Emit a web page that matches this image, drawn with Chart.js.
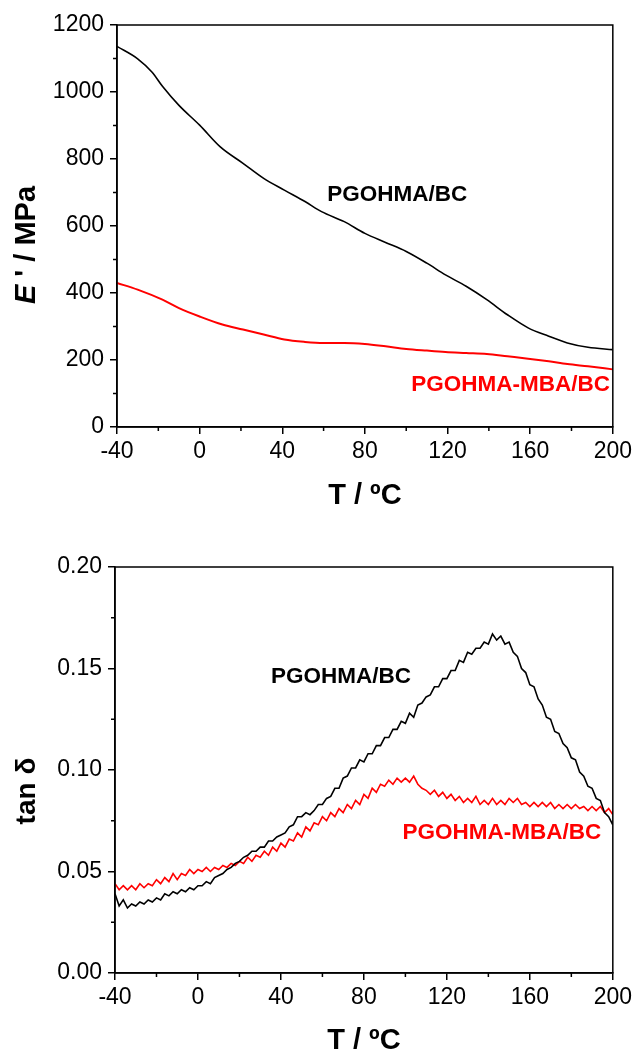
<!DOCTYPE html>
<html>
<head>
<meta charset="utf-8">
<script src="https://cdn.jsdelivr.net/npm/chart.js@4/dist/chart.umd.min.js"></script>
<style>
  body { margin: 0; background: #fff; }
  canvas { position: absolute; left: 0; }
</style>
</head>
<body>
<canvas id="storage" width="636" height="520" style="top:0"></canvas>
<canvas id="tanDelta" width="636" height="517" style="top:540px"></canvas>
<script>
// storage modulus E' (MPa) vs T
const blackTempsE = [-40, -30, -23, -18, -10, 0, 10, 21, 31, 41, 51, 59, 70, 80, 90, 100, 110, 119, 129, 139, 149, 159, 169, 178, 188, 200];
const blackE = [1136, 1099, 1059, 1017, 960, 901, 836, 787, 742, 707, 673, 643, 613, 578, 551, 524, 489, 454, 420, 380, 335, 296, 271, 251, 238, 231];
const redTempsE = [-40, -30, -18, -10, 0, 11, 21, 31, 41, 51, 60, 70, 80, 90, 100, 110, 119, 129, 139, 149, 159, 169, 178, 188, 200];
const redE = [430, 410, 380, 355, 330, 306, 291, 276, 261, 254, 251, 251, 248, 241, 233, 228, 224, 221, 218, 211, 204, 196, 188, 181, 172];

// tan delta vs T
const tanTemps = [-40, -38, -36, -34, -32, -30, -28, -26, -24, -22, -20, -18, -16, -14, -12, -10, -8, -6, -4, -2,
  0, 2, 4, 6, 8, 10, 12, 14, 16, 18, 20, 22, 24, 26, 28, 30, 32, 34, 36, 38,
  40, 42, 44, 46, 48, 50, 52, 54, 56, 58, 60, 62, 64, 66, 68, 70, 72, 74, 76, 78,
  80, 82, 84, 86, 88, 90, 92, 94, 96, 98, 100, 102, 104, 106, 108, 110, 112, 114, 116, 118,
  120, 122, 124, 126, 128, 130, 132, 134, 136, 138, 140, 142, 144, 146, 148, 150, 152, 154, 156, 158,
  160, 162, 164, 166, 168, 170, 172, 174, 176, 178, 180, 182, 184, 186, 188, 190, 192, 194, 196, 198, 200];
const blackTan = [0.039, 0.033, 0.036, 0.032, 0.034, 0.033, 0.035, 0.034, 0.036, 0.035, 0.037, 0.036, 0.039, 0.038, 0.040, 0.039, 0.041, 0.040, 0.042, 0.041,
  0.043, 0.043, 0.045, 0.044, 0.047, 0.048, 0.049, 0.051, 0.052, 0.054, 0.055, 0.057, 0.058, 0.060, 0.060, 0.062, 0.062, 0.065, 0.065, 0.067,
  0.068, 0.069, 0.072, 0.073, 0.077, 0.077, 0.079, 0.078, 0.080, 0.083, 0.083, 0.086, 0.087, 0.091, 0.091, 0.096, 0.097, 0.101, 0.101, 0.105,
  0.104, 0.108, 0.108, 0.112, 0.112, 0.116, 0.116, 0.120, 0.120, 0.124, 0.123, 0.128, 0.126, 0.132, 0.133, 0.136, 0.137, 0.141, 0.141, 0.145,
  0.145, 0.149, 0.149, 0.154, 0.153, 0.158, 0.157, 0.160, 0.160, 0.163, 0.162, 0.167, 0.164, 0.166, 0.162, 0.163, 0.158, 0.156, 0.150, 0.148,
  0.142, 0.141, 0.135, 0.132, 0.126, 0.125, 0.119, 0.118, 0.113, 0.111, 0.106, 0.105, 0.099, 0.097, 0.092, 0.091, 0.086, 0.085, 0.079, 0.077, 0.073];
const redTan = [0.044, 0.041, 0.043, 0.041, 0.043, 0.041, 0.044, 0.042, 0.044, 0.043, 0.046, 0.044, 0.047, 0.045, 0.049, 0.046, 0.049, 0.048, 0.051, 0.049,
  0.051, 0.050, 0.052, 0.050, 0.052, 0.051, 0.053, 0.052, 0.054, 0.053, 0.055, 0.054, 0.057, 0.055, 0.058, 0.057, 0.060, 0.058, 0.062, 0.060,
  0.064, 0.062, 0.066, 0.065, 0.069, 0.067, 0.072, 0.070, 0.074, 0.073, 0.077, 0.075, 0.079, 0.077, 0.081, 0.079, 0.083, 0.081, 0.085, 0.083,
  0.088, 0.086, 0.091, 0.089, 0.093, 0.092, 0.095, 0.093, 0.096, 0.094, 0.096, 0.094, 0.097, 0.093, 0.091, 0.090, 0.088, 0.090, 0.087, 0.089,
  0.086, 0.088, 0.085, 0.087, 0.084, 0.086, 0.084, 0.087, 0.083, 0.085, 0.083, 0.086, 0.083, 0.085, 0.083, 0.086, 0.084, 0.086, 0.083, 0.084,
  0.082, 0.084, 0.082, 0.084, 0.082, 0.084, 0.081, 0.083, 0.081, 0.083, 0.081, 0.083, 0.081, 0.082, 0.080, 0.082, 0.080, 0.082, 0.079, 0.081, 0.078];

const FONT = "'Liberation Sans', Arial, sans-serif";

function pairs(xs, ys) {
  return xs.map((x, i) => ({ x: x, y: ys[i] }));
}

// frame, minor ticks, axis titles and curve labels
function decorations(opts) {
  return {
    id: "decor",
    afterDraw(chart) {
      const ctx = chart.ctx;
      const a = chart.chartArea;
      const xs = chart.scales.x;
      const ys = chart.scales.y;
      ctx.save();
      ctx.strokeStyle = "#000";
      ctx.lineWidth = 1.5;
      ctx.strokeRect(a.left, a.top, a.right - a.left, a.bottom - a.top);
      ctx.beginPath();
      opts.minorX.forEach(v => {
        const px = xs.getPixelForValue(v);
        ctx.moveTo(px, a.bottom);
        ctx.lineTo(px, a.bottom + 4);
      });
      opts.minorY.forEach(v => {
        const py = ys.getPixelForValue(v);
        ctx.moveTo(a.left, py);
        ctx.lineTo(a.left - 4, py);
      });
      ctx.stroke();

      ctx.fillStyle = "#000";
      ctx.textAlign = "center";
      ctx.textBaseline = "middle";
      ctx.font = "bold 29px " + FONT;
      ctx.fillText("T / \u00baC", (a.left + a.right) / 2, opts.xTitleY);

      ctx.translate(27, opts.yTitleY);
      ctx.rotate(-Math.PI / 2);
      opts.yTitle(ctx);
      ctx.restore();

      ctx.save();
      ctx.textAlign = "center";
      ctx.textBaseline = "middle";
      ctx.font = "bold 22.5px " + FONT;
      opts.labels.forEach(l => {
        ctx.fillStyle = l.color;
        ctx.fillText(l.text, xs.getPixelForValue(l.x), ys.getPixelForValue(l.y));
      });
      ctx.restore();
    }
  };
}

function axes(yMin, yMax, yStep, yFmt, xHeight, yWidth) {
  const tickFont = { family: FONT, size: 23 };
  return {
    x: {
      type: "linear", min: -40, max: 200,
      ticks: { stepSize: 40, color: "#000", font: tickFont, padding: 4, maxRotation: 0 },
      grid: { drawOnChartArea: false, drawTicks: true, tickLength: 7, color: "#000", lineWidth: 1.5 },
      border: { color: "#000", width: 1.5 },
      afterFit(s) { s.height = xHeight; }
    },
    y: {
      min: yMin, max: yMax,
      ticks: { stepSize: yStep, color: "#000", font: tickFont, padding: 6, callback: yFmt },
      grid: { drawOnChartArea: false, drawTicks: true, tickLength: 7, color: "#000", lineWidth: 1.5 },
      border: { color: "#000", width: 1.5 },
      afterFit(s) { s.width = yWidth; }
    }
  };
}

const common = {
  responsive: false,
  animation: false,
  plugins: { legend: { display: false }, tooltip: { enabled: false } },
  elements: { point: { radius: 0 } }
};

new Chart(document.getElementById("storage").getContext("2d"), {
  type: "line",
  data: {
    datasets: [
      { data: pairs(blackTempsE, blackE), borderColor: "#000", borderWidth: 1.6, cubicInterpolationMode: "monotone" },
      { data: pairs(redTempsE, redE), borderColor: "#ff0000", borderWidth: 2, cubicInterpolationMode: "monotone" }
    ]
  },
  options: Object.assign({}, common, {
    layout: { padding: { top: 25, right: 23, left: 0, bottom: 0 } },
    scales: axes(0, 1200, 200, v => String(v), 93, 117)
  }),
  plugins: [decorations({
    minorX: [-20, 20, 60, 100, 140, 180],
    minorY: [100, 300, 500, 700, 900, 1100],
    xTitleY: 496,
    yTitleY: 245,
    yTitle(ctx) {
      const parts = [["italic bold 29px " + FONT, "E"], ["bold 29px " + FONT, " ' / MPa"]];
      let total = 0;
      parts.forEach(p => { ctx.font = p[0]; total += ctx.measureText(p[1]).width; });
      let x = -total / 2;
      ctx.textAlign = "left";
      parts.forEach(p => { ctx.font = p[0]; ctx.fillText(p[1], x, 0); x += ctx.measureText(p[1]).width; });
    },
    labels: [
      { text: "PGOHMA/BC", x: 95.6, y: 692, color: "#000" },
      { text: "PGOHMA-MBA/BC", x: 150.5, y: 126, color: "#ff0000" }
    ]
  })]
});

new Chart(document.getElementById("tanDelta").getContext("2d"), {
  type: "line",
  data: {
    datasets: [
      { data: pairs(tanTemps, blackTan), borderColor: "#000", borderWidth: 1.6 },
      { data: pairs(tanTemps, redTan), borderColor: "#ff0000", borderWidth: 1.6 }
    ]
  },
  options: Object.assign({}, common, {
    layout: { padding: { top: 27, right: 21, left: 0, bottom: 0 } },
    scales: axes(0, 0.2, 0.05, v => v.toFixed(2), 84, 115)
  }),
  plugins: [decorations({
    minorX: [-20, 20, 60, 100, 140, 180],
    minorY: [0.025, 0.075, 0.125, 0.175],
    xTitleY: 501,
    yTitleY: 251,
    yTitle(ctx) {
      ctx.font = "bold 28px " + FONT;
      ctx.fillText("tan \u03b4", 0, 0);
    },
    labels: [
      { text: "PGOHMA/BC", x: 69, y: 0.1458, color: "#000" },
      { text: "PGOHMA-MBA/BC", x: 146.5, y: 0.069, color: "#ff0000" }
    ]
  })]
});
</script>
</body>
</html>
